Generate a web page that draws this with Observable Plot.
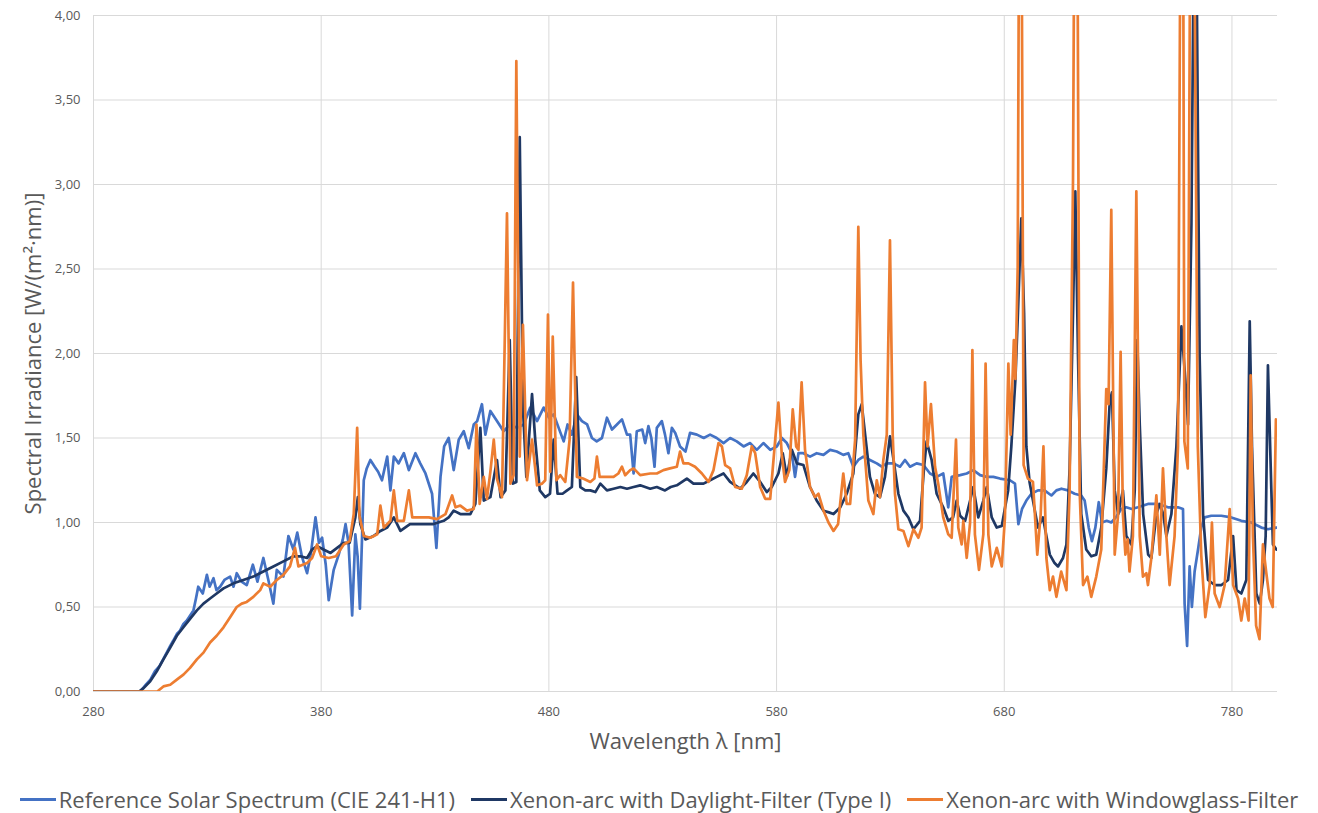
<!DOCTYPE html>
<html>
<head>
<meta charset="utf-8">
<script src="https://cdn.jsdelivr.net/npm/d3@7"></script>
<script src="https://cdn.jsdelivr.net/npm/@observablehq/plot@0.6"></script>
<style>
  html, body { margin: 0; padding: 0; background: #fff; }
  #wrap { position: relative; width: 1318px; height: 813px; overflow: hidden; font-family: "Open Sans", sans-serif; }
  #legend { position: absolute; left: 0; top: 787px; width: 1318px; display: flex; justify-content: center; gap: 16px; font-size: 22px; line-height: 24px; color: #595959; white-space: nowrap; }
  #legend .item { display: flex; align-items: center; }
  #legend .sw { display: inline-block; width: 36px; height: 3px; margin-right: 3px; }
</style>
</head>
<body>
<div id="wrap"><div id="chart"></div><div id="legend"></div></div>
<script>
// ---- series names & colours ----
const seriesNames = ["Reference Solar Spectrum (CIE 241-H1)", "Xenon-arc with Daylight-Filter (Type I)", "Xenon-arc with Windowglass-Filter"];
const seriesColors = ["#4472C4", "#1F3864", "#ED7D31"];

// ---- axis ticks ----
const xTicks = [280, 380, 480, 580, 680, 780];
const yTicks = [0, 0.5, 1, 1.5, 2, 2.5, 3, 3.5, 4];

// ---- Reference Solar Spectrum (CIE 241-H1) ----
const solarNm = [280,290,298,300.5,303,305,307,309,311,313.7,315,316.6,318,319.5,321,323.9,325,326,328,329.8,331,332.7,334,335.6,337.5,340,341.5,342.9,345,347.3,350,352,354.6,356.8,359,360.5,363.4,365.6,367.8,369.5,371.5,373.8,375.5,377.5,379,380.4,382,383.3,385.5,387.7,389.5,390.7,392,393.6,395,396,397,398.7,400,401.6,403.5,405,406.7,409,410.4,411.9,414,416.3,418.5,421.4,423.5,425.8,428.7,430.6,432.4,434,436,438.2,440.4,442.6,444.8,447,448.5,450.6,452.1,454.3,457.2,460.1,463,466,469,471.8,474.8,477.7,480,482.1,484.3,486.5,488.2,490.1,492.3,494.5,496.8,498.9,501,503.3,505.5,507.7,509.9,512.1,514.3,515.7,517.2,518.6,521,522.3,523.7,525,526.4,527.4,529.6,531,532.5,534,535.5,537.6,540,542,545,548,550.8,553.7,556.7,559.6,562.5,565.5,568.4,571.3,574.2,577.2,580.1,582.3,584.5,586.7,588.1,589.6,591.8,594.7,597.6,600.6,603.5,606.4,609.3,611.5,613.7,615.9,618.1,621,624,626.2,628.4,631.3,634.2,636.4,638.6,641.5,644.5,647.4,650.3,653.2,655.4,656.9,660.6,663.5,666.4,669.4,672.3,675.2,678.1,682.5,684.7,686.2,687.8,689.7,691.9,694.8,697.7,700.7,702.9,705.1,708,710.9,713.8,715.3,717.1,718.5,720,721.5,722.9,725,727,729,731.4,733.6,736,738.7,743.1,747.5,751.9,756.3,758.5,759.2,760.3,761.4,762.4,763.6,765.1,766.5,768,770.9,775.3,779.7,784.1,788.5,792.9,795.8,799.5];
const solarVal = [0,0,0,0,0.04,0.07,0.12,0.15,0.2,0.27,0.3,0.34,0.36,0.4,0.42,0.48,0.55,0.62,0.58,0.69,0.62,0.67,0.6,0.62,0.66,0.68,0.62,0.7,0.65,0.63,0.75,0.65,0.79,0.66,0.52,0.72,0.68,0.92,0.84,0.94,0.8,0.7,0.82,1.03,0.88,0.91,0.75,0.54,0.72,0.81,0.9,0.99,0.88,0.45,0.93,0.8,0.49,1.25,1.32,1.37,1.33,1.3,1.25,1.39,1.19,1.39,1.35,1.41,1.31,1.41,1.35,1.29,1.17,0.85,1.27,1.45,1.5,1.31,1.49,1.54,1.44,1.58,1.6,1.7,1.52,1.66,1.6,1.54,1.58,1.56,1.58,1.68,1.6,1.68,1.62,1.64,1.56,1.48,1.58,1.52,1.64,1.6,1.58,1.5,1.48,1.5,1.62,1.55,1.58,1.61,1.52,1.52,1.29,1.54,1.55,1.47,1.57,1.5,1.33,1.56,1.6,1.52,1.41,1.56,1.53,1.45,1.42,1.53,1.52,1.5,1.52,1.5,1.47,1.5,1.48,1.45,1.47,1.43,1.47,1.43,1.45,1.5,1.47,1.41,1.27,1.41,1.41,1.39,1.41,1.4,1.43,1.42,1.4,1.41,1.33,1.37,1.39,1.37,1.35,1.33,1.35,1.35,1.33,1.37,1.33,1.35,1.34,1.29,1.27,1.29,1.09,1.27,1.28,1.29,1.31,1.28,1.27,1.27,1.26,1.25,1.23,0.99,1.08,1.13,1.17,1.19,1.19,1.16,1.19,1.2,1.19,1.17,1.16,1.13,0.97,0.89,0.97,1.12,1.0,1.01,1.0,1.03,1.08,1.09,1.08,1.09,1.11,1.11,1.09,1.09,1.08,0.52,0.27,0.74,0.5,0.71,0.84,0.97,1.03,1.04,1.04,1.03,1.01,1.0,0.97,0.96,0.97];

// ---- Xenon-arc with Daylight-Filter (Type I) ----
const daylightNm = [280,298,300,302,304.9,307.8,310.7,313.7,316.6,319.5,322.4,325.4,328.3,331.2,334.1,337.1,341.5,345.8,350.2,354.6,359,363.4,367.8,370.9,373.8,376,378.2,381,384.1,387,389.9,392.5,395,396.1,397.2,399.4,403,406,409,411.9,414.8,419,423.6,429,433.8,436,438.2,441.1,445.5,447.7,449.9,451.4,454.3,457.2,458.8,460.9,462.8,464.2,465.7,467.2,468.6,470.1,472.6,474,476,478.4,480.5,482.1,483.8,486,488,490.1,492,493.8,496,498.2,500.4,502.6,505.5,508.4,511.4,514.3,517.2,520.1,524.5,527.4,531,533.5,536.2,540.6,543.5,547.9,550.8,553.7,556.7,559.6,564,566.9,569.8,572.8,575.7,577.9,580.8,582.7,584.5,586.7,588.9,591.8,594.7,597.6,600.6,603,605,608,610.8,613.7,615.9,617.4,618.9,621,623.2,625.4,627.6,629.8,631.6,633.5,635.7,637.9,640.1,643,644.8,645.9,648.1,650.3,653.2,655.4,657.5,659.1,660.6,662.8,665,666.4,668.6,670.8,672.3,674.5,676.7,678.9,681.7,683.1,684.9,686,687.5,688.7,689.7,691.1,693.3,694.8,697,698.5,700,702.1,703.6,705.8,707.3,708.7,710.2,711.2,712.4,713.8,716,718.2,720.4,722.6,724.8,726.3,727.3,728.5,730,732.1,733.6,735.8,737.3,738.4,739.5,741,743.2,744.6,746.8,748.3,749.8,751.2,753.4,755.6,757.8,759.5,760.7,762.2,763.2,764.3,765.8,767.3,769.5,772.4,775.4,778.3,780.5,782,784.1,786.3,787.8,788.8,790.7,792.2,793.6,794.8,795.8,797.3,798,799.5];
const daylightVal = [0,0,0,0.02,0.06,0.12,0.19,0.26,0.33,0.38,0.43,0.48,0.52,0.55,0.58,0.61,0.64,0.66,0.68,0.71,0.74,0.77,0.8,0.8,0.79,0.84,0.86,0.84,0.82,0.85,0.88,0.88,1.03,1.15,0.99,0.9,0.92,0.95,0.97,1.03,0.95,0.99,0.99,0.99,1.01,1.03,1.07,1.05,1.05,1.11,1.56,1.13,1.15,1.37,1.15,1.19,2.08,1.23,1.24,3.28,1.68,1.27,1.76,1.49,1.19,1.15,1.17,1.49,1.17,1.17,1.19,1.21,1.86,1.21,1.19,1.19,1.18,1.23,1.19,1.2,1.21,1.2,1.21,1.22,1.2,1.21,1.19,1.21,1.22,1.26,1.23,1.23,1.25,1.27,1.29,1.24,1.2,1.24,1.29,1.24,1.18,1.21,1.29,1.41,1.27,1.43,1.35,1.34,1.21,1.13,1.07,1.06,1.05,1.09,1.17,1.29,1.64,1.7,1.52,1.27,1.17,1.15,1.27,1.51,1.35,1.17,1.07,1.03,0.96,1.01,1.33,1.48,1.37,1.17,1.09,1.01,1.03,1.13,1.04,1.01,1.13,1.21,1.03,1.13,1.21,1.03,0.97,0.98,1.19,1.45,1.85,2.24,2.8,2.24,1.45,1.24,1.08,0.97,1.03,0.92,0.81,0.76,0.74,0.79,0.87,1.32,2.24,2.96,1.98,1.05,0.84,0.8,0.81,0.97,1.32,1.71,1.77,1.19,1.05,1.19,0.92,0.87,1.19,2.08,1.58,1.05,0.81,0.79,1.05,1.11,1.05,0.92,1.05,1.45,2.16,1.85,1.58,2.77,4.4,4.6,1.98,1.05,0.66,0.63,0.63,0.66,0.92,0.6,0.58,0.66,2.19,1.45,0.58,0.52,0.66,0.92,1.93,1.19,0.87,0.84];

// ---- Xenon-arc with Windowglass-Filter ----
const windowNm = [280,308,310.7,313.7,316.6,319.5,322.4,325.4,328.3,331.2,334.1,337.1,340,342.9,345.1,347.3,350.2,353.2,354.6,357.6,360.5,363.4,366.3,368.5,370,373.8,376,378.2,380,383.3,386.5,389.9,392.5,394.3,395.8,396.8,398.7,401.6,404.6,406,407.5,410.4,411.9,413.4,416.3,418.5,420,423.6,427.3,430.9,434.6,437.5,439,441.1,444,447,448.2,449.6,451.4,452.8,454.3,455.8,457.2,459.4,461.6,463.1,464.5,465.7,467.2,468.6,470.4,472.6,474.8,477,478.4,479.6,480.6,481.7,483.3,485,487.2,489.1,490.6,492.3,495,498.2,500,501.1,502.3,505,508.4,510.5,512.1,513.5,515.7,517.2,520.1,524.5,527.4,530.3,533.2,536.2,537.6,539.1,541.3,544.2,547.2,550.1,552.3,554.5,556,557.4,559.6,561.8,564.7,566.9,569.1,570.6,572.8,575,577.2,579.4,580.8,582.3,583.7,585.6,587.1,588.6,589.6,591,592.5,594.7,596.9,598.4,600.6,602.8,605,607,609.3,610.8,612.3,614.5,615.9,616.9,618.1,620.3,622.5,624,625.4,626.9,628.4,629.8,631,632,633.5,635.7,637.9,640.1,642.3,643.7,645.2,646.3,647.8,649.6,651,653.2,655.4,656.9,658.8,659.8,661.3,662,663.5,665,666,667.1,668.9,670.8,671.8,673,674.5,676.7,678.9,680.3,681.8,682.8,684.2,684.9,685.9,686.6,687.5,688.5,690.4,692.6,694.5,696,697.2,698.5,700,701.4,702.9,705,707.3,708.7,710.2,710.9,712,713.1,714.6,716.5,718.2,720.4,722.6,724.8,725.8,727,728.5,730,731.1,732.1,733.2,734.2,735,736.5,738,739.5,740.9,742.4,743.1,744.6,746.8,748.3,749.7,751.2,752.6,754.8,756.3,757.5,758.5,759.1,760.6,761.8,763.2,765,766.5,768.3,770.2,771.2,772.4,774.6,776.8,779,780.5,782.7,784.1,785.6,787.3,788.2,789.2,790.6,792.1,793.6,795,796.5,797.9,799.3];
const windowVal = [0,0,0.03,0.04,0.07,0.1,0.14,0.19,0.23,0.29,0.33,0.38,0.44,0.5,0.52,0.53,0.56,0.6,0.64,0.62,0.66,0.69,0.74,0.85,0.74,0.76,0.79,0.87,0.8,0.79,0.8,0.87,0.89,1.05,1.56,1.04,0.92,0.91,0.93,1.1,0.97,1.01,1.19,1.01,1.01,1.19,1.03,1.03,1.03,1.02,1.05,1.16,1.09,1.1,1.07,1.08,1.58,1.11,1.27,1.14,1.3,1.49,1.26,1.15,2.83,1.23,1.28,3.73,1.39,2.17,1.25,1.49,1.22,1.23,1.25,2.23,1.3,2.1,1.25,1.28,1.24,1.49,2.42,1.27,1.26,1.24,1.26,1.39,1.27,1.27,1.27,1.29,1.33,1.28,1.31,1.32,1.28,1.29,1.29,1.31,1.32,1.33,1.42,1.35,1.35,1.33,1.29,1.24,1.31,1.47,1.45,1.34,1.32,1.21,1.2,1.28,1.45,1.41,1.21,1.14,1.14,1.49,1.71,1.4,1.24,1.31,1.67,1.45,1.43,1.83,1.43,1.21,1.15,1.17,1.07,1.0,0.95,0.99,1.29,1.11,1.11,1.49,2.75,1.96,1.52,1.13,1.05,1.25,1.15,1.37,1.52,2.67,1.52,1.17,0.96,0.95,0.86,0.96,0.91,0.97,1.83,1.45,1.7,1.33,1.23,1.03,0.93,0.91,1.49,0.97,0.87,1.01,0.79,1.0,2.02,0.93,0.72,0.93,1.94,0.93,0.74,0.85,0.74,1.03,1.94,1.52,2.08,1.85,2.51,5.0,5.0,1.34,1.26,1.24,0.81,1.05,1.45,0.79,0.6,0.68,0.56,0.71,0.6,1.19,3.04,5.0,5.0,1.19,0.63,0.68,0.56,0.68,0.84,1.79,1.7,2.85,0.81,1.05,2.01,1.05,0.81,0.9,0.71,0.92,2.96,0.92,0.68,0.7,0.63,0.79,1.16,0.81,1.32,0.92,0.63,0.92,1.45,5.0,5.0,1.48,1.32,5.0,5.0,1.45,0.81,0.44,0.63,1.0,0.58,0.5,0.63,1.08,0.63,0.55,0.42,0.55,0.42,1.87,0.92,0.39,0.31,0.87,0.71,0.55,0.5,1.61];

// ---- build the table ----
const rows = [];
[[solarNm, solarVal], [daylightNm, daylightVal], [windowNm, windowVal]].forEach(([xs, ys], i) => {
  xs.forEach((x, j) => rows.push({series: seriesNames[i], nm: x, v: ys[j]}));
});

const fmt = d => d.toFixed(2).replace(".", ",");
const txt = "#595959";

const chart = Plot.plot({
  width: 1318,
  height: 760,
  marginLeft: 93,
  marginRight: 41,
  marginTop: 15,
  marginBottom: 69,
  style: {fontFamily: "'Open Sans', sans-serif", background: "#fff"},
  x: {domain: [280, 800]},
  y: {domain: [0, 4]},
  color: {domain: seriesNames, range: seriesColors},
  marks: [
    Plot.gridY(yTicks, {stroke: "#d9d9d9", strokeOpacity: 1, strokeWidth: 1}),
    Plot.gridX(xTicks, {stroke: "#d9d9d9", strokeOpacity: 1, strokeWidth: 1}),
    Plot.axisX(xTicks, {tickSize: 0, tickPadding: 15, fontSize: 13, color: txt, label: null}),
    Plot.axisY(yTicks, {tickSize: 0, tickPadding: 13, fontSize: 13, color: txt, label: null, tickFormat: fmt}),
    Plot.line(rows, {x: "nm", y: "v", z: "series", stroke: "series", strokeWidth: 2.7, clip: true, curve: "linear"}),
    Plot.text(["Wavelength λ [nm]"], {frameAnchor: "bottom", textAnchor: "middle", dy: 57, fontSize: 22, fill: txt}),
    Plot.text(["Spectral Irradiance [W/(m²·nm)]"], {frameAnchor: "left", textAnchor: "middle", dx: -60, rotate: -90, fontSize: 22, fill: txt})
  ]
});
document.getElementById("chart").appendChild(chart);

// ---- legend ----
const legend = document.getElementById("legend");
seriesNames.forEach((name, i) => {
  const it = document.createElement("div");
  it.className = "item";
  const sw = document.createElement("span");
  sw.className = "sw";
  sw.style.background = seriesColors[i];
  it.appendChild(sw);
  const t = document.createElement("span");
  t.textContent = name;
  it.appendChild(t);
  legend.appendChild(it);
});
</script>
</body>
</html>
